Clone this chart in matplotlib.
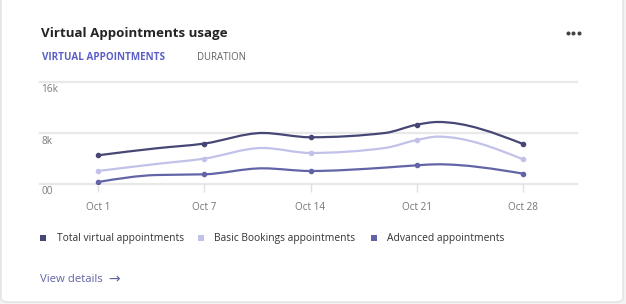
import numpy as np
import matplotlib.pyplot as plt
from matplotlib.path import Path
from matplotlib.patches import PathPatch, FancyBboxPatch, Rectangle
from matplotlib.lines import Line2D

plt.rcParams['font.family'] = ['Open Sans', 'DejaVu Sans']

# data (values in thousands), x in weeks from Oct 1
x_pos = [0, 0.55, 1, 1.55, 2, 2.7, 3, 3.2, 4]
total = [4.5, 5.6, 6.34, 8.0, 7.33, 8.0, 9.3, 9.73, 6.28]
basic = [2.04, 3.14, 3.98, 5.65, 4.87, 5.65, 6.9, 7.43, 3.87]
advanced = [0.31, 1.41, 1.52, 2.46, 2.04, 2.57, 2.93, 3.09, 1.63]

tick_pos = [0, 1, 2, 3, 4]
tick_labels = ["Oct 1", "Oct 7", "Oct 14", "Oct 21", "Oct 28"]
y_ticks = [0, 8, 16]
y_labels = ["00", "8k", "16k"]

series = [("Total virtual appointments", total, "#464775"),
          ("Basic Bookings appointments", basic, "#c1c1ea"),
          ("Advanced appointments", advanced, "#6264a7")]

W, H = 626, 304


def monotone_path(x, y):
    # same curve as d3.curveMonotoneX, drawn as cubic bezier segments
    x = np.asarray(x, float)
    y = np.asarray(y, float)
    h = np.diff(x)
    s = np.diff(y) / h
    t = np.zeros(len(x))
    for i in range(1, len(x) - 1):
        p = (s[i - 1] * h[i] + s[i] * h[i - 1]) / (h[i - 1] + h[i])
        t[i] = (np.sign(s[i - 1]) + np.sign(s[i])) * min(abs(s[i - 1]), abs(s[i]), 0.5 * abs(p))
    t[0] = (3 * s[0] - t[1]) / 2
    t[-1] = (3 * s[-1] - t[-2]) / 2
    verts = [(x[0], y[0])]
    codes = [Path.MOVETO]
    for i in range(len(x) - 1):
        d = h[i] / 3
        verts += [(x[i] + d, y[i] + d * t[i]), (x[i + 1] - d, y[i + 1] - d * t[i + 1]), (x[i + 1], y[i + 1])]
        codes += [Path.CURVE4] * 3
    return Path(verts, codes)


fig = plt.figure(figsize=(W / 100, H / 100), dpi=100)
fig.patch.set_facecolor("#f3f3f3")

# card
card = FancyBboxPatch((1 / W, 2 / H), 622 / W, (H + 10) / H, boxstyle="round,pad=0,rounding_size=0.012",
                      transform=fig.transFigure, facecolor="white", edgecolor="#e1e1e1", linewidth=1,
                      zorder=-5)
fig.patches.append(card)


def fx(px):
    return px / W


def fy(py):
    return 1 - py / H


fig.text(fx(41), fy(33), "Virtual Appointments usage", fontsize=9.6, fontweight="bold",
         color="#242424", va="center", ha="left")
fig.text(fx(42), fy(57), "VIRTUAL APPOINTMENTS", fontsize=7.1, fontweight="bold",
         color="#5b5fc7", va="center", ha="left")
fig.text(fx(197), fy(57), "DURATION", fontsize=6.9, color="#616161", va="center", ha="left")
fig.lines.append(Line2D([fx(567.5), fx(573), fx(578.5)], [fy(33)] * 3, transform=fig.transFigure,
                        linestyle="none", marker="o", markersize=1.9, color="#424242"))

# plot area
left, right, top, bottom = 40, 577, 82, 184
ax = fig.add_axes([fx(left), fy(bottom), (right - left) / W, (bottom - top) / H])
ax.set_facecolor("none")
x0 = -58 / 106.25
ax.set_xlim(x0, x0 + (right - left) / 106.25)
ax.set_ylim(0, 16)
for sp in ax.spines.values():
    sp.set_visible(False)
for v in y_ticks:
    ax.axhline(v, color="#e8e8e8", linewidth=1.6, clip_on=False, zorder=0)
for v, lab in zip(y_ticks, y_labels):
    ax.annotate(lab, (0, v), xycoords=("axes fraction", "data"), xytext=(1, -1.8),
                textcoords="offset points", fontsize=7.2, color="#7a7a7a", va="top", ha="left")
ax.set_yticks([])
ax.set_xticks(tick_pos)
ax.set_xticklabels(tick_labels, fontsize=7.2, color="#757575")
ax.tick_params(axis="x", length=5.5, width=1, color="#e0e0e0", pad=7.5)

for name, vals, col in series:
    ax.add_patch(PathPatch(monotone_path(x_pos, vals), facecolor="none", edgecolor=col,
                           linewidth=1.6, capstyle="round", zorder=3))
    mx = [xp for xp in x_pos if xp in tick_pos]
    my = [v for xp, v in zip(x_pos, vals) if xp in tick_pos]
    ax.plot(mx, my, linestyle="none", marker="o", markersize=3, color=col, zorder=4)

# legend
leg_x = [(40.5, 56.7), (197.5, 214.3), (370.5, 387)]
for (sx, tx), (name, vals, col) in zip(leg_x, series):
    fig.patches.append(Rectangle((fx(sx), fy(241)), 6 / W, 6 / H, transform=fig.transFigure,
                                 facecolor=col, edgecolor="none"))
    fig.text(fx(tx), fy(238), name, fontsize=7.4, color="#333333", va="center", ha="left")

fig.text(fx(40), fy(279), "View details", fontsize=8.2, color="#6264a7", va="center", ha="left")
fig.text(fx(108), fy(279), "\u2192", fontsize=10, color="#6264a7", va="center", ha="left",
         family="DejaVu Sans")

fig.savefig("out.png", dpi=100)
